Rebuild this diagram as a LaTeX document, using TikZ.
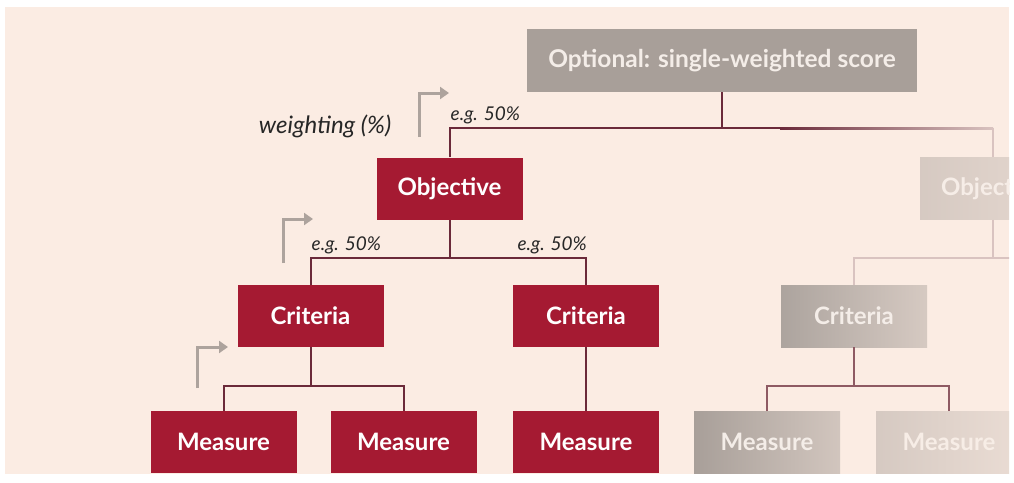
\documentclass[tikz,border=0pt]{standalone}
\usepackage{fontspec}
\setmainfont{Lato}
\usetikzlibrary{arrows.meta}

\definecolor{bgpeach}{HTML}{FBECE3}
\definecolor{boxred}{HTML}{A51A32}
\definecolor{boxgray}{HTML}{A89F99}
\definecolor{linkred}{HTML}{6B2A3A}
\definecolor{linkfade}{HTML}{D9C3C0}
\definecolor{linkmid}{HTML}{8E5A63}
\definecolor{arrowgray}{HTML}{ADA39D}
\definecolor{paletext}{HTML}{F4EDE8}

\tikzset{
  redbox/.style={anchor=north,minimum width=146pt,minimum height=62pt,inner sep=0pt,fill=boxred,text=white,font=\fontsize{24}{28}\selectfont\bfseries},
  fadebox/.style={anchor=north,minimum width=146pt,minimum height=62pt,inner sep=0pt,text=paletext,font=\fontsize{24}{28}\selectfont\bfseries},
  link/.style={draw=linkred,line width=2pt},
  weightarrow/.style={draw=arrowgray,line width=3pt,-{Triangle[length=9pt,width=12pt]}},
  weightlabel/.style={text=black!85,font=\fontsize{19}{23}\selectfont\itshape}
}

\begin{document}
\begin{tikzpicture}[x=1pt,y=-1pt]
\fill[white] (0,0) rectangle (1014,482);
\useasboundingbox (0,0) rectangle (1014,482);
\fill[bgpeach] (5,7) rectangle (1009,474);
\begin{scope}
\clip (5,7) rectangle (1009,474);

\node [anchor=north,minimum width=390pt,minimum height=63pt,inner sep=0pt,fill=boxgray,text=paletext,font=\fontsize{24.5}{28}\selectfont\bfseries] (top) at (722,29) {Optional: single-weighted score};

\node [redbox] (obj1) at ([xshift=-272.5pt,yshift=-65pt]top.south) {Objective};
\node [fadebox,left color=boxgray!45!bgpeach,right color=boxgray!25!bgpeach,text=paletext!70!bgpeach] (obj2) at ([xshift=271pt,yshift=-65pt]top.south) {Objective};

\node [redbox] (crit1) at ([xshift=-139pt,yshift=-65pt]obj1.south) {Criteria};
\node [redbox] (crit2) at ([xshift=136.5pt,yshift=-65pt]obj1.south) {Criteria};
\node [fadebox,left color=boxgray!95!white,right color=boxgray!45!bgpeach] (crit3) at ([xshift=-139pt,yshift=-65pt]obj2.south) {Criteria};

\node [redbox] (meas1) at ([xshift=-87pt,yshift=-64pt]crit1.south) {Measure};
\node [redbox] (meas2) at ([xshift=93pt,yshift=-64pt]crit1.south) {Measure};
\node [redbox] (meas3) at ([yshift=-64pt]crit2.south) {Measure};
\node [fadebox,left color=boxgray,right color=boxgray!50!bgpeach] (meas4) at ([xshift=-87pt,yshift=-64pt]crit3.south) {Measure};
\node [fadebox,left color=boxgray!45!bgpeach,right color=boxgray!20!bgpeach,text=paletext!60!bgpeach] (meas5) at ([xshift=95pt,yshift=-64pt]crit3.south) {Measure};

%%%%%%%%%%%%%%%%%%%%%%%%%%
\coordinate (bar0) at ([yshift=-36pt]top.south);
\coordinate (fadeA) at ([xshift=58pt]bar0);
\coordinate (fadeB) at (obj2.north |- bar0);
\draw [link] (obj1.north) -- (obj1.north |- bar0) -- (fadeA);
\draw [link] (top.south) -- (bar0);
\shade [left color=linkred,right color=linkfade] ([yshift=1pt]fadeA) rectangle ([yshift=-1pt]fadeB);
\draw [draw=linkfade,line width=2pt] (fadeB) -- (obj2.north);

\coordinate (bar1) at ([yshift=-38pt]obj1.south);
\draw [link] (obj1.south) -- (bar1);
\draw [link] (crit1.north) |- (bar1) -| (crit2.north);

\coordinate (bar2) at ([yshift=-39pt]crit1.south);
\draw [link] (crit1.south) -- (bar2);
\draw [link] (meas1.north) |- (bar2) -| (meas2.north);
\draw [link] (crit2.south) -- (meas3.north);

\coordinate (bar3) at ([yshift=-38pt]obj2.south);
\draw [draw=linkfade,line width=2pt] (obj2.south) -- (bar3);
\draw [draw=linkfade,line width=2pt] (crit3.north) |- (bar3) -- ++(20,0);

\coordinate (bar4) at ([yshift=-39pt]crit3.south);
\draw [draw=linkmid,line width=2pt] (crit3.south) -- (bar4);
\draw [draw=linkmid,line width=2pt] (meas4.north) |- (bar4) -| (meas5.north);
%%%%%%%%%%%%%%%%%%%%%%%%%%

\coordinate (arr1a) at (419,137);
\coordinate (arr1b) at (449,93);
\draw [weightarrow] (arr1a) |- (arr1b);
\coordinate (arr2a) at (283,263);
\coordinate (arr2b) at (313,219);
\draw [weightarrow] (arr2a) |- (arr2b);
\coordinate (arr3a) at (197,388);
\coordinate (arr3b) at (228,347);
\draw [weightarrow] (arr3a) |- (arr3b);

\node [weightlabel,font=\fontsize{24}{28}\selectfont\itshape] (wlabel) at (325,126) {weighting (\%)};
\node [weightlabel,anchor=south west,inner sep=0pt] (eg1) at ([xshift=1pt,yshift=4pt]obj1.north |- bar0) {e.g. 50\%};
\node [weightlabel,anchor=south west,inner sep=0pt] (eg2) at ([xshift=1pt,yshift=4pt]crit1.north |- bar1) {e.g. 50\%};
\node [weightlabel,anchor=south east,inner sep=0pt] (eg3) at ([xshift=1pt,yshift=4pt]crit2.north |- bar1) {e.g. 50\%};
\end{scope}

\end{tikzpicture}
\end{document}
